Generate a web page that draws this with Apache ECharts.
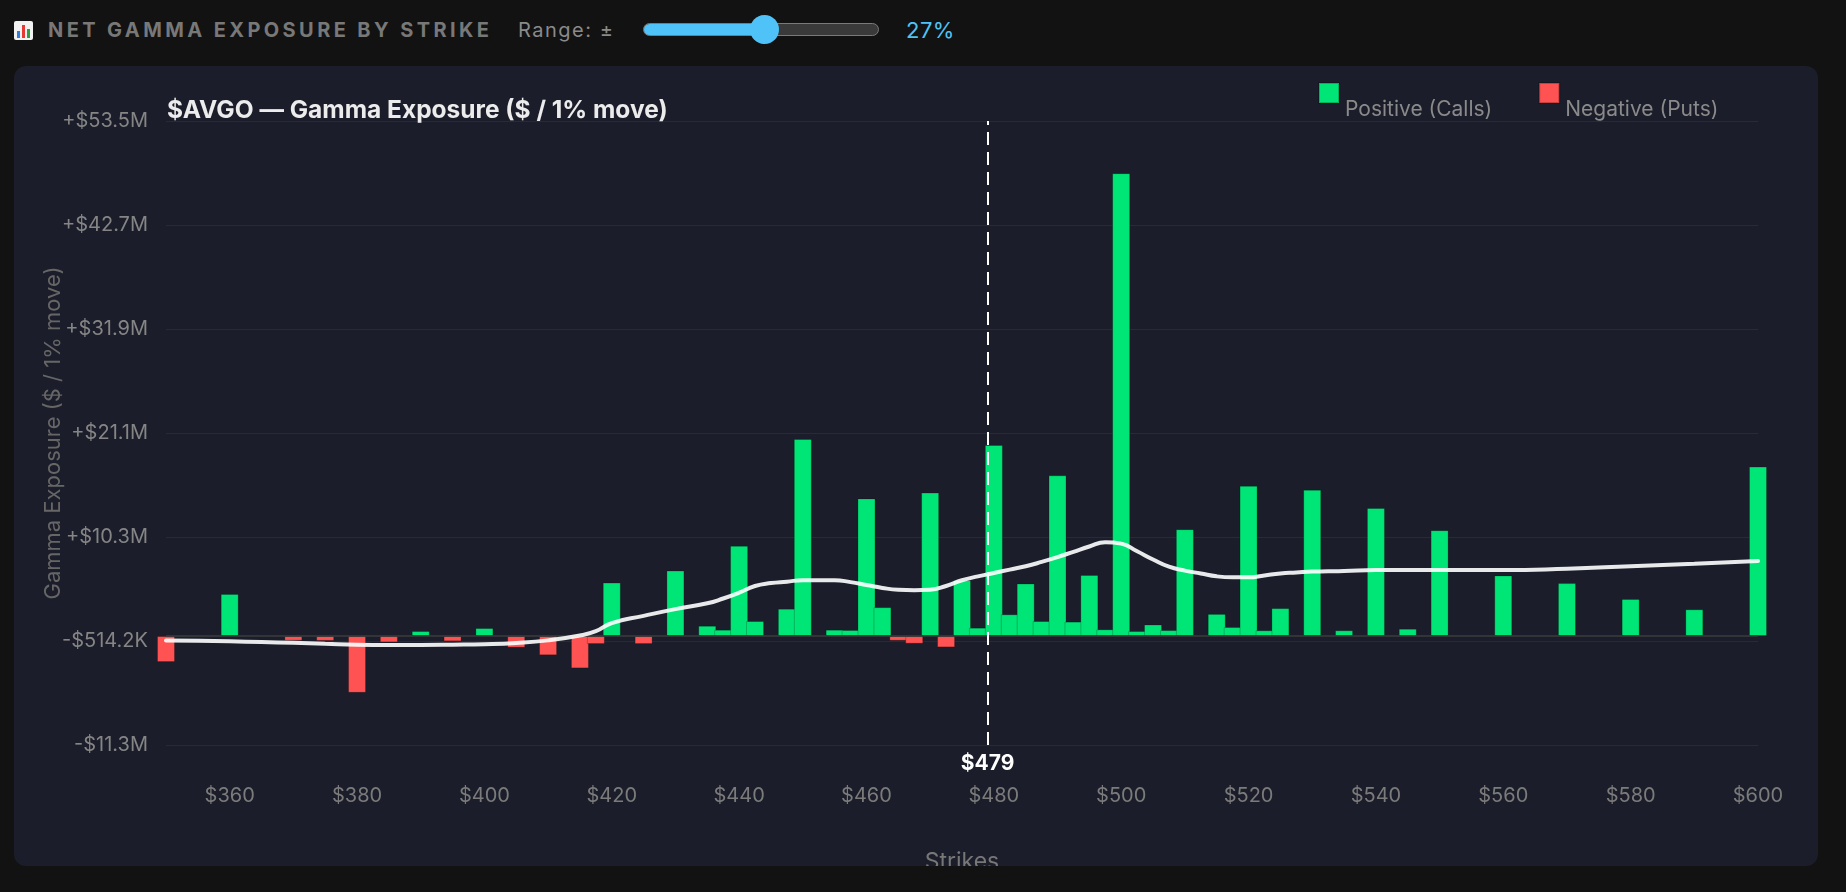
<!DOCTYPE html>
<html>
<head>
<meta charset="utf-8">
<script src="https://cdn.jsdelivr.net/npm/echarts@6/dist/echarts.min.js"></script>
<style>
  html, body { margin: 0; padding: 0; background: #121212; width: 1846px; height: 892px; overflow: hidden; font-family: Inter, "Noto Sans", sans-serif; }
  .hdr { position: absolute; white-space: nowrap; }
  #icon { left: 14px; top: 21px; width: 19px; height: 19px; background: #f2f2f2; border-radius: 2px; }
  #icon span { position: absolute; bottom: 2px; width: 3px; }
  #ttl { left: 48px; top: 18px; height: 24px; line-height: 24px; font-size: 20px; font-weight: 700; letter-spacing: 3.4px; color: #787878; }
  #rng { left: 518px; top: 18px; height: 24px; line-height: 24px; font-size: 20px; letter-spacing: 1.5px; color: #8a8a8a; }
  #track { left: 643px; top: 23px; width: 236px; height: 13px; box-sizing: border-box; border: 1.5px solid #7a7a7a; border-radius: 7px; background: #3a3a3a; overflow: hidden; }
  #fill { position: absolute; left: 0; top: 0; bottom: 0; width: 121px; background: #4fc3f7; }
  #thumb { left: 750px; top: 15px; width: 29px; height: 29px; border-radius: 50%; background: #4fc3f7; }
  #pct { left: 906px; top: 18px; height: 24px; line-height: 24px; font-size: 22px; letter-spacing: 0.5px; color: #4fc3f7; }
  #panel { position: absolute; left: 14px; top: 66px; width: 1804px; height: 800px; background: #1b1e2a; border-radius: 12px; overflow: hidden; }
  #chart { width: 1804px; height: 800px; }
</style>
</head>
<body>
<div class="hdr" id="icon"><span style="left:3px;height:7px;background:#2f7fe0"></span><span style="left:8px;height:13px;background:#e53935"></span><span style="left:13px;height:9px;background:#2e9e3e"></span></div>
<div class="hdr" id="ttl">NET GAMMA EXPOSURE BY STRIKE</div>
<div class="hdr" id="rng">Range: ±</div>
<div class="hdr" id="track"><div id="fill"></div></div>
<div class="hdr" id="thumb"></div>
<div class="hdr" id="pct">27%</div>
<div id="panel"><div id="chart"></div></div>
<script>
// ---- data ($M per 1% move) ----
const ticker = '$AVGO';
const spotPrice = 479;
const strikes = [350,355,360,365,370,375,380,385,390,395,400,405,410,415,417.5,420,425,430,435,437.5,440,442.5,445,447.5,450,452.5,455,457.5,460,462.5,465,467.5,470,472.5,475,477.5,480,482.5,485,487.5,490,492.5,495,497.5,500,502.5,505,507.5,510,512.5,515,517.5,520,522.5,525,527.5,530,532.5,535,540,545,550,560,570,580,590,600];
const netGex = [-2.7,0,4.37,0,-0.49,-0.5,-5.9,-0.66,0.52,-0.55,0.83,-1.21,-2.0,-3.36,-0.83,5.55,-0.83,6.8,1.07,0.66,9.37,1.56,0,2.84,20.47,0,0.66,0.63,14.3,3.0,-0.49,-0.8,14.9,-1.18,5.8,0.87,19.85,2.26,5.46,1.56,16.7,1.5,6.35,0.7,48.08,0.52,1.2,0.62,11.1,0,2.3,0.94,15.6,0.6,2.9,0,15.2,0,0.6,13.3,0.76,11.0,6.3,5.5,3.85,2.78,17.6];
const trend = [-0.45,-0.5,-0.55,-0.62,-0.7,-0.8,-0.9,-0.93,-0.93,-0.9,-0.85,-0.72,-0.45,0.05,0.5,1.35,2.1,2.8,3.4,3.9,4.5,5.2,5.5,5.65,5.8,5.8,5.8,5.6,5.3,5.0,4.8,4.75,4.8,5.2,5.8,6.2,6.55,6.9,7.25,7.7,8.2,8.75,9.3,9.75,9.6,8.8,7.95,7.2,6.8,6.5,6.2,6.1,6.1,6.3,6.5,6.6,6.7,6.72,6.75,6.85,6.85,6.85,6.85,7.0,7.25,7.5,7.8];
const xTickLabels = [360,380,400,420,440,460,480,500,520,540,560,580,600];
const yMin = -11.3168, yInterval = 10.8026, yMax = 53.4988;

const GREEN = '#00e676', RED = '#ff5252';
const posData = [], negData = [];
strikes.forEach((s, i) => {
  if (netGex[i] > 0) posData.push([s, netGex[i]]);
  else if (netGex[i] < 0) negData.push([s, netGex[i]]);
});
const trendData = strikes.map((s, i) => [s, trend[i]]);

function fmtMoney(v) {
  const sign = v >= 0 ? '+' : '-';
  const a = Math.abs(v);
  if (a >= 1) return sign + '$' + a.toFixed(1) + 'M';
  return sign + '$' + (a * 1000).toFixed(1) + 'K';
}

const chart = echarts.init(document.getElementById('chart'), null, { renderer: 'canvas' });
chart.setOption({
  backgroundColor: 'transparent',
  animation: false,
  textStyle: { fontFamily: 'Inter, "Noto Sans", sans-serif' },
  title: {
    text: ticker + ' — Gamma Exposure ($ / 1% move)',
    left: 153, top: 32, padding: 0,
    textStyle: { color: '#ececec', fontSize: 24.5, fontWeight: 'bold' }
  },
  legend: {
    data: ['Positive (Calls)', 'Negative (Puts)'],
    left: 1304, top: 16, padding: 0,
    icon: 'rect', itemWidth: 20, itemHeight: 20, itemGap: 46,
    formatter: '{t|{name}}',
    textStyle: {
      color: '#8a8a8a', fontSize: 21,
      rich: { t: { color: '#8a8a8a', fontSize: 21, padding: [34, 0, 0, 1] } }
    }
  },
  grid: { left: 152, right: 60, top: 55, bottom: 121, containLabel: false, outerBoundsMode: 'none' },
  xAxis: {
    type: 'value', min: 350, max: 600,
    name: 'Strikes', nameLocation: 'middle', nameGap: 106, nameMoveOverlap: false,
    nameTextStyle: { color: '#777', fontSize: 23 },
    axisLine: { show: false }, axisTick: { show: false }, splitLine: { show: false },
    axisLabel: { customValues: xTickLabels, color: '#7b7b7b', fontSize: 20, margin: 41, formatter: v => '$' + v }
  },
  yAxis: {
    type: 'value', min: yMin, max: yMax, interval: yInterval,
    name: 'Gamma Exposure ($ / 1% move)', nameLocation: 'middle', nameGap: 102, nameMoveOverlap: false,
    nameTextStyle: { color: '#666', fontSize: 22 },
    axisLine: { show: false }, axisTick: { show: false },
    splitLine: { lineStyle: { color: '#2a2b31', width: 1 } },
    axisLabel: { color: '#858585', fontSize: 20, margin: 18, formatter: fmtMoney }
  },
  series: [
    {
      name: 'Positive (Calls)', type: 'bar', data: posData, barWidth: 18, barGap: '-100%',
      itemStyle: { color: GREEN, borderColor: 'rgba(0,0,0,0.22)', borderWidth: 1 }
    },
    {
      name: 'Negative (Puts)', type: 'bar', data: negData, barWidth: 18, barGap: '-100%',
      itemStyle: { color: RED, borderColor: 'rgba(0,0,0,0.22)', borderWidth: 1 }
    },
    {
      name: 'Trend', type: 'line', data: trendData, smooth: true, showSymbol: false, symbol: 'none',
      lineStyle: { color: 'rgba(255,255,255,0.9)', width: 4, cap: 'round' },
      z: 5,
      markLine: {
        silent: true, symbol: 'none', animation: false,
        data: [
          { yAxis: 0, lineStyle: { color: '#3c3c3c', width: 1.5, type: 'solid' }, label: { show: false } },
          { xAxis: spotPrice, lineStyle: { color: '#ffffff', width: 2, type: [13, 7] },
            label: { show: true, position: 'start', distance: 8, formatter: '$' + spotPrice, color: '#ffffff', fontSize: 21, fontWeight: 'bold' } }
        ]
      }
    }
  ]
});
</script>
</body>
</html>
